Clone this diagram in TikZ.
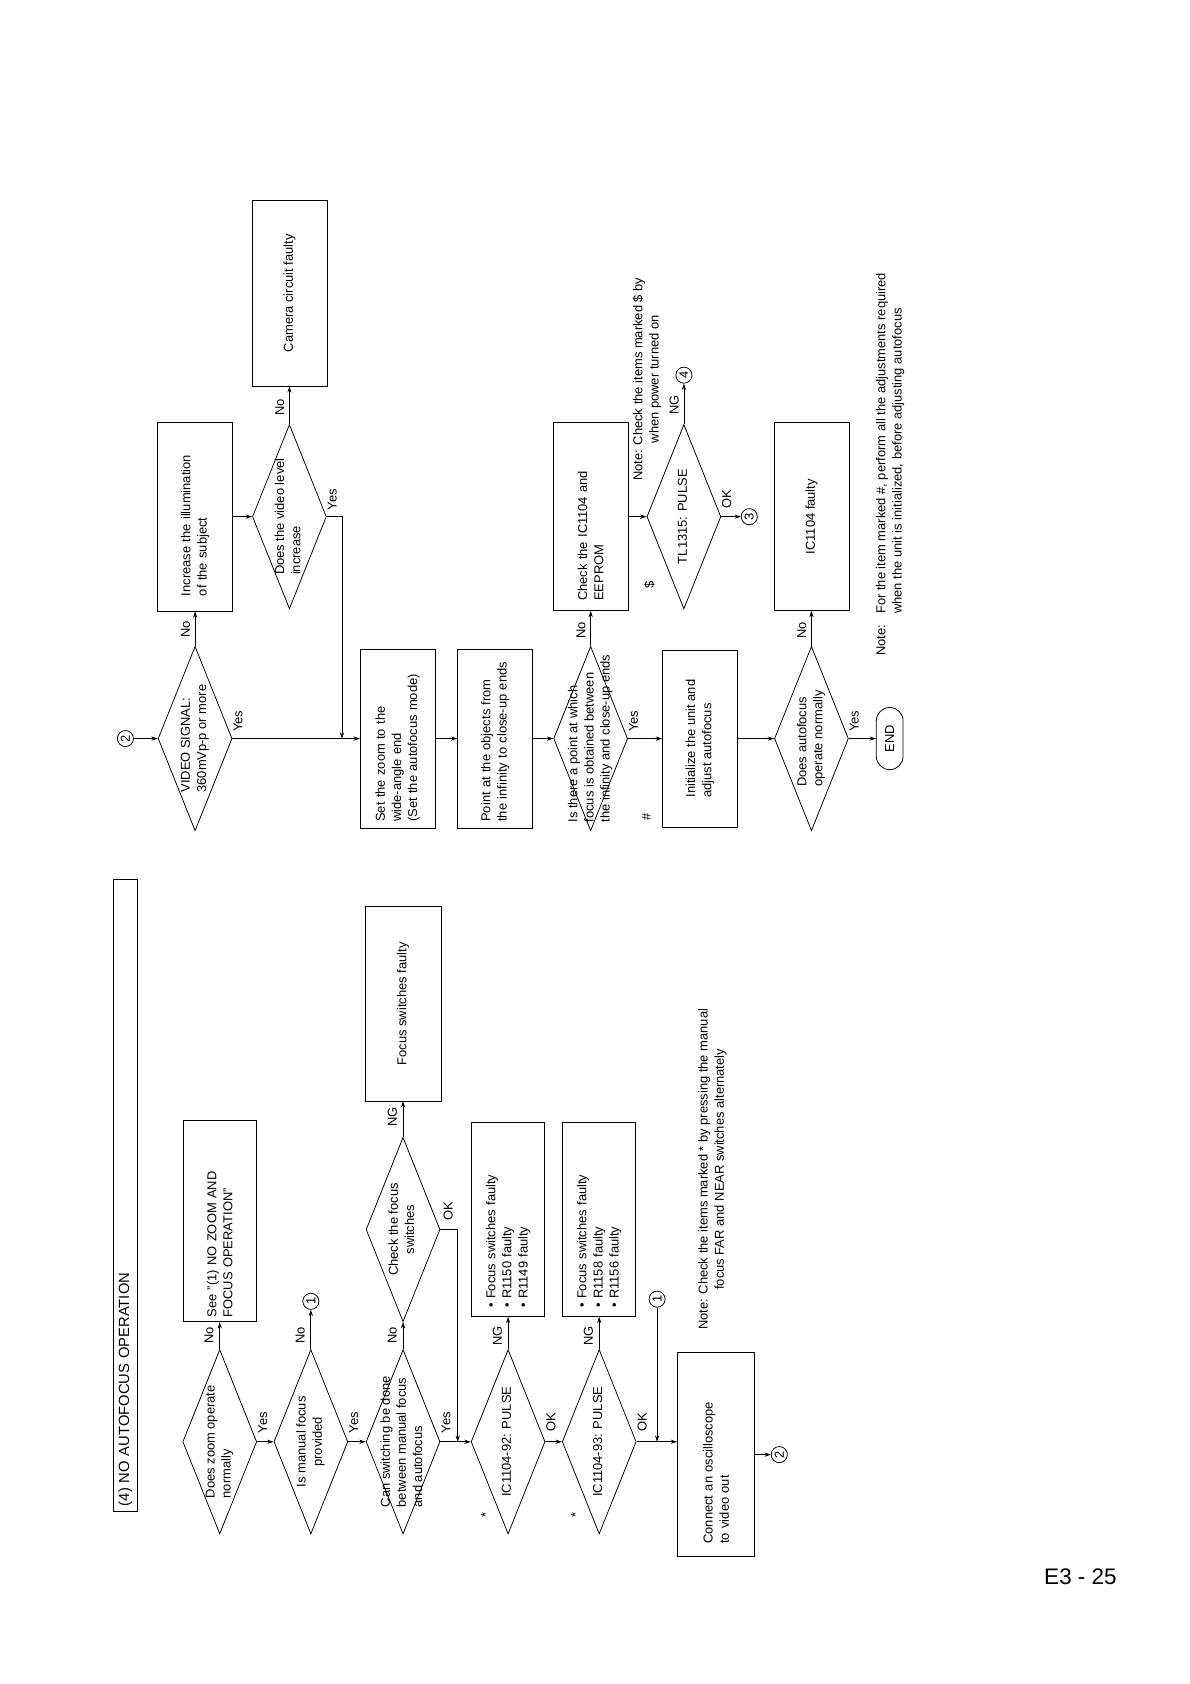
\documentclass[tikz,border=0pt]{standalone}
\usepackage{fontspec}
\setmainfont{Liberation Sans}
\usetikzlibrary{shapes.geometric, shapes.misc, arrows.meta}

\newdimen\ux
\ux=0.0268cm
\newcommand{\qtext}[2][l]{\makebox[0pt]{\raisebox{-2pt}[0pt][0pt]{\begin{tabular}{@{}#1@{}}#2\end{tabular}}}}

\tikzset{
  cond/.style={diamond, draw, rotate=90, minimum width=172*\ux, minimum height=69*\ux, inner sep=0pt},
  box/.style 2 args={rectangle, draw, rotate=90, minimum width=#1*\ux, minimum height=#2*\ux, inner ysep=0pt, align=left},
  conn/.style={circle, draw, rotate=90, minimum size=15*\ux, inner sep=0pt},
  term/.style={rounded rectangle, draw, rotate=90, minimum width=58*\ux, minimum height=25*\ux, inner sep=0pt},
  tag/.style={rotate=90, inner sep=0pt},
  note/.style={rotate=90, inner sep=0pt, anchor=north west},
}

\begin{document}
\begin{tikzpicture}[x=0.0268cm, y=-0.0268cm, line width=0.55pt, >={Stealth[length=4.5pt, width=3pt]}, font=\fontsize{9.2}{11.5}\selectfont]
    \useasboundingbox (0, 0) rectangle (1110, 1571);

    \node[box={590}{22}, text width=580*\ux, inner xsep=5*\ux, font=\fontsize{10.5}{12}\selectfont] (title) at (117, 1115) {(4) NO AUTOFOCUS OPERATION};

    \node[cond] (zoomq) at (205, 1345) {\qtext{Does zoom operate\\normally}};
    \node[box={188}{68}, text width=180*\ux, inner xsep=4*\ux] (seezoom) at (205, 1139) {See ”(1) NO ZOOM AND\\FOCUS OPERATION”};
    \node[cond] (manualq) at (290, 1345) {\qtext[c]{Is manual focus\\provided}};
    \node[conn] (conn1a) at (290, 1214) {1};
    \node[cond] (switchq) at (376, 1345) {\qtext{Can switching be done\\between manual focus\\and autofocus}};
    \node[cond] (checksw) at (376, 1147) {\qtext[c]{Check the focus\\switches}};
    \node[box={181}{71}, align=center] (swfaulty) at (376, 936.5) {Focus switches faulty};
    \coordinate (okjoin) at (427, 1345);
    \node[cond] (pulse92) at (474, 1345) {\qtext{IC1104-92: PULSE}};
    \node[box={181}{68}, text width=165*\ux, inner xsep=8*\ux] (faulty92) at (474, 1137.5) {\textbullet\ Focus switches faulty\\\textbullet\ R1150 faulty\\\textbullet\ R1149 faulty};
    \node[cond] (pulse93) at (559, 1345) {\qtext{IC1104-93: PULSE}};
    \node[box={181}{68}, text width=165*\ux, inner xsep=8*\ux] (faulty93) at (559, 1137.5) {\textbullet\ Focus switches faulty\\\textbullet\ R1158 faulty\\\textbullet\ R1156 faulty};
    \node[conn] (conn1b) at (613, 1212) {1};
    \coordinate (onejoin) at (613, 1345);
    \node[box={190}{72}, text width=166*\ux, inner xsep=12*\ux] (scope) at (668, 1357) {Connect an oscilloscope\\to video out};
    \node[conn] (conn2a) at (727, 1357) {2};

    \node[tag] (no1) at (195, 1246) {No};
    \node[tag] (yes1) at (245, 1327) {Yes};
    \node[tag] (no2) at (280, 1246) {No};
    \node[tag] (yes2) at (330, 1327) {Yes};
    \node[tag] (no3) at (366, 1246) {No};
    \node[tag] (yes3) at (416, 1327) {Yes};
    \node[tag] (ng6) at (366, 1042) {NG};
    \node[tag] (ok6) at (418, 1130) {OK};
    \node[tag] (ng92) at (464, 1246) {NG};
    \node[tag] (ok92) at (514, 1327) {OK};
    \node[tag] (ng93) at (549, 1246) {NG};
    \node[tag] (ok93) at (599, 1327) {OK};
    \node[tag] (star92) at (453, 1413) {*};
    \node[tag] (star93) at (537, 1413) {*};

    \node[note, align=center] (note1) at (651, 1241) {Note: Check the items marked * by pressing the manual\\focus FAR and NEAR switches alternately};

    \node[conn] (conn2b) at (117, 689) {2};
    \node[cond] (videoq) at (182, 689) {\qtext{VIDEO SIGNAL:\\360mVp-p or more}};
    \node[box={176}{70}, text width=148*\ux, inner xsep=14*\ux] (illum) at (182, 482) {Increase the illumination\\of the subject};
    \node[cond] (levelq) at (270, 482) {\qtext{Does the video level\\increase}};
    \node[box={173}{70}, align=center] (camfaulty) at (270, 273.5) {Camera circuit faulty};
    \coordinate (yesjoin) at (319, 689);
    \node[box={167}{70}, text width=155*\ux, inner xsep=6*\ux] (setzoom) at (371, 689) {Set the zoom to the\\wide-angle end\\(Set the autofocus mode)};
    \node[box={167}{70}, text width=155*\ux, inner xsep=6*\ux] (pointobj) at (462, 689) {Point at the objects from\\the infinity to close-up ends};
    \node[cond] (focusq) at (551, 689) {\qtext{Is there a point at which\\focus is obtained between\\the infinity and close-up ends}};
    \node[box={175}{70}, text width=157*\ux, inner xsep=9*\ux] (checkic) at (551, 482) {Check the IC1104 and\\EEPROM};
    \node[cond] (tlpulse) at (638, 482) {\qtext[c]{TL1315: PULSE}};
    \node[conn] (conn4) at (638, 350) {4};
    \node[conn] (conn3) at (699, 482) {3};
    \node[box={165}{70}] (initunit) at (653, 689) {Initialize the unit and\\adjust autofocus};
    \node[cond] (afq) at (757, 689) {\qtext{Does autofocus\\operate normally}};
    \node[box={175}{70}, align=center] (icfaulty) at (757, 482) {IC1104 faulty};
    \node[term] (stop) at (830, 689) {END};

    \node[tag] (no7) at (173, 587) {No};
    \node[tag] (yes7) at (222, 673) {Yes};
    \node[tag] (no8) at (261, 380) {No};
    \node[tag] (yes8) at (310, 466) {Yes};
    \node[tag] (no9) at (542, 588) {No};
    \node[tag] (yes9) at (591, 673) {Yes};
    \node[tag] (no10) at (748, 588) {No};
    \node[tag] (yes10) at (797, 673) {Yes};
    \node[tag] (ng11) at (629, 378) {NG};
    \node[tag] (ok11) at (678, 466) {OK};
    \node[tag] (dollar) at (606, 546) {\$};
    \node[tag] (hash) at (603, 762) {\#};

    \node[note, align=center] (note2) at (590, 449) {Note: Check the items marked \$ by\\when power turned on};
    \node[note, align=left] (note3) at (815, 612) {\begin{tabular}{@{}l@{\hspace{7.8pt}}l@{}}Note: & For the item marked \#, perform all the adjustments required\\ & when the unit is initialized, before adjusting autofocus\end{tabular}};

    \node[font=\fontsize{16}{19}\selectfont] (page) at (1008, 1471) {E3 - 25};

    \draw [->] (zoomq.south) -- (manualq.north);
    \draw [->] (zoomq.east) -- (seezoom.west);
    \draw [->] (manualq.south) -- (switchq.north);
    \draw [->] (manualq.east) -- (conn1a);
    \draw [->] (switchq.east) -- (checksw.west);
    \draw [->] (checksw.east) -- (swfaulty.west);
    \draw [->] (checksw.south) -| (okjoin);
    \draw [->] (switchq.south) -- (pulse92.north);
    \draw [->] (pulse92.east) -- (faulty92.west);
    \draw [->] (pulse92.south) -- (pulse93.north);
    \draw [->] (pulse93.east) -- (faulty93.west);
    \draw [->] (conn1b) -- (onejoin);
    \draw [->] (pulse93.south) -- (pulse93.south -| scope.north);
    \draw [->] (scope.south) -- (conn2a);

    \draw [->] (conn2b) -- (videoq.north);
    \draw [->] (videoq.east) -- (illum.west);
    \draw [->] (illum.south) -- (levelq.north);
    \draw [->] (levelq.east) -- (camfaulty.west);
    \draw [->] (levelq.south) -| (yesjoin);
    \draw [->] (videoq.south) -- (setzoom.north);
    \draw [->] (setzoom.south) -- (pointobj.north);
    \draw [->] (pointobj.south) -- (focusq.north);
    \draw [->] (focusq.east) -- (checkic.west);
    \draw [->] (checkic.south) -- (tlpulse.north);
    \draw [->] (tlpulse.east) -- (conn4);
    \draw [->] (tlpulse.south) -- (conn3);
    \draw [->] (focusq.south) -- (initunit.north);
    \draw [->] (initunit.south) -- (afq.north);
    \draw [->] (afq.east) -- (icfaulty.west);
    \draw [->] (afq.south) -- (stop.north);
\end{tikzpicture}
\end{document}
